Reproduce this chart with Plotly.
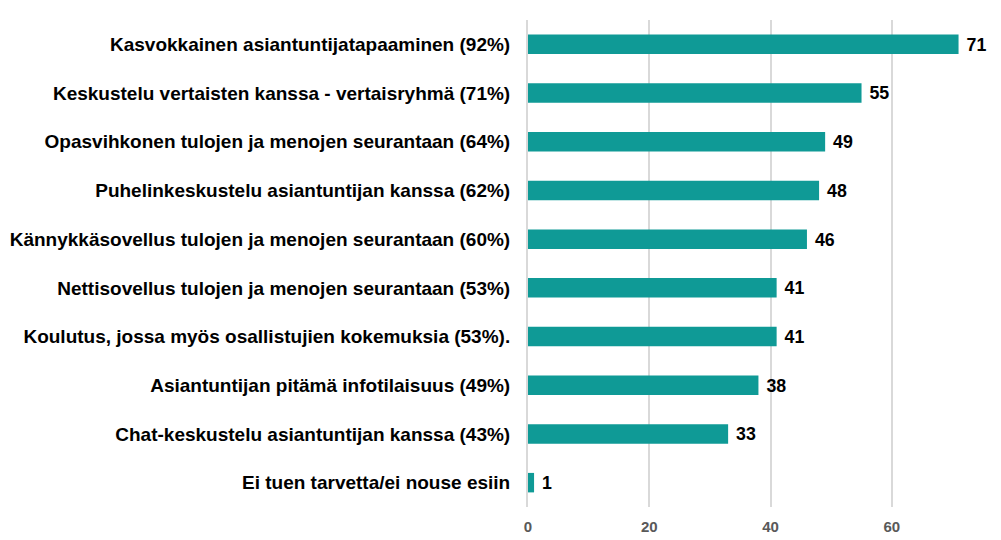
import plotly.graph_objects as go

categories = [
    "Kasvokkainen asiantuntijatapaaminen (92%)",
    "Keskustelu vertaisten kanssa - vertaisryhmä (71%)",
    "Opasvihkonen tulojen ja menojen seurantaan (64%)",
    "Puhelinkeskustelu asiantuntijan kanssa (62%)",
    "Kännykkäsovellus tulojen ja menojen seurantaan (60%)",
    "Nettisovellus tulojen ja menojen seurantaan (53%)",
    "Koulutus, jossa myös osallistujien kokemuksia (53%).",
    "Asiantuntijan pitämä infotilaisuus (49%)",
    "Chat-keskustelu asiantuntijan kanssa (43%)",
    "Ei tuen tarvetta/ei nouse esiin",
]
values = [71, 55, 49, 48, 46, 41, 41, 38, 33, 1]
tick_vals = [0, 20, 40, 60]

fig = go.Figure(go.Bar(
    x=values,
    y=categories,
    orientation="h",
    marker=dict(color="#0F9A96", line=dict(width=0)),
    width=0.4,
    text=["\u00a0" + str(v) for v in values],
    textposition="outside",
    cliponaxis=False,
    textfont=dict(family="Liberation Sans", size=21, color="#000000", weight="bold"),
))

fig.update_layout(
    width=993,
    height=532,
    margin=dict(l=520, r=0, t=12, b=33),
    paper_bgcolor="white",
    plot_bgcolor="white",
    showlegend=False,
    xaxis=dict(
        range=[0, 78],
        tickvals=tick_vals,
        showgrid=True,
        gridcolor="#D9D9D9",
        gridwidth=2,
        zeroline=False,
        showline=False,
        tickfont=dict(family="Liberation Sans", size=15, color="#595959", weight="bold"),
        ticklabelstandoff=9,
        fixedrange=True,
    ),
    yaxis=dict(
        autorange="reversed",
        showline=True,
        linecolor="#D9D9D9",
        linewidth=2,
        showgrid=False,
        tickfont=dict(family="Liberation Sans", size=19, color="#000000", weight="bold"),
        ticklabelstandoff=12,
        ticks="",
    ),
    bargap=0.6,
)

fig.write_html("out.html")
